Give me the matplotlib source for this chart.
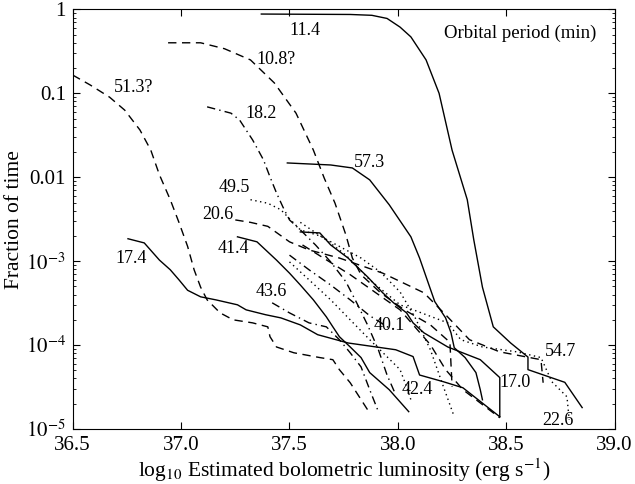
import matplotlib

matplotlib.use("Agg")
import matplotlib.pyplot as plt
from matplotlib.ticker import FixedLocator, FixedFormatter, LogLocator, NullFormatter

plt.rcParams["font.family"] = ["Liberation Serif", "DejaVu Serif"]
plt.rcParams["mathtext.fontset"] = "stix"

# curves: log10 L (x) and fraction of time (y)
x_114 = [37.37, 37.78, 37.88, 37.95, 38.01, 38.06, 38.13, 38.19, 38.25, 38.32, 38.35, 38.39, 38.44, 38.52, 38.60, 38.60, 38.77, 38.85]
y_114 = [0.88, 0.87, 0.85, 0.78, 0.615, 0.47, 0.25, 0.10, 0.021, 5.4e-3, 1.8e-3, 4.9e-4, 1.65e-4, 1.06e-4, 7.2e-5, 5.1e-5, 3.6e-5, 1.8e-5]

x_108 = [36.94, 37.09, 37.20, 37.32, 37.43, 37.53, 37.61, 37.66, 37.71, 37.76, 37.79, 37.83, 37.92, 38.03, 38.15, 38.24, 38.25]
y_108 = [0.40, 0.40, 0.34, 0.25, 0.133, 0.058, 0.0211, 0.0098, 4.9e-3, 2.06e-3, 1.09e-3, 6.9e-4, 4.2e-4, 2.63e-4, 1.74e-4, 1.08e-4, 3.2e-5]

x_513 = [36.50, 36.58, 36.67, 36.74, 36.81, 36.86, 36.90, 36.95, 36.99, 37.03, 37.06, 37.09, 37.12,
         37.18, 37.24, 37.33, 37.40, 37.41, 37.44, 37.52, 37.64, 37.70, 37.73, 37.78, 37.86]
y_513 = [0.165, 0.126, 0.090, 0.063, 0.0366, 0.0211, 0.0107, 5.4e-3, 2.9e-3, 1.5e-3, 7.9e-4, 4.9e-4, 3.46e-4,
         2.42e-4, 2.0e-4, 1.84e-4, 1.65e-4, 1.26e-4, 9.5e-5, 8.1e-5, 7.1e-5, 6.7e-5, 5.1e-5, 3.56e-5, 1.7e-5]

x_182 = [37.12, 37.23, 37.27, 37.33, 37.38, 37.41, 37.44, 37.47, 37.50, 37.55, 37.62, 37.69, 37.76, 37.81, 37.86, 37.91, 37.95, 37.99]
y_182 = [0.069, 0.058, 0.048, 0.0278, 0.0161, 0.0101, 6.5e-3, 4.4e-3, 3.1e-3, 2.36e-3, 1.56e-3, 9.8e-4, 5.7e-4, 3.19e-4, 1.74e-4, 8.8e-5, 4.4e-5, 2.56e-5]

x_573 = [37.49, 37.69, 37.79, 37.87, 37.96, 38.06, 38.10, 38.14, 38.17, 38.22, 38.245, 38.26, 38.31, 38.36, 38.38, 38.39]
y_573 = [0.0148, 0.0140, 0.0129, 9.3e-3, 4.7e-3, 1.95e-3, 1.09e-3, 5.5e-4, 3.3e-4, 2.11e-4, 1.40e-4, 9.3e-5, 7.1e-5, 4.7e-5, 2.94e-5, 2.23e-5]

x_495 = [37.32, 37.40, 37.46, 37.55, 37.64, 37.73, 37.83, 37.92, 38.01, 38.08, 38.15, 38.21, 38.26]
y_495 = [5.4e-3, 4.9e-3, 4.1e-3, 2.36e-3, 2.0e-3, 1.5e-3, 1.09e-3, 7.4e-4, 4.3e-4, 2.11e-4, 8.8e-5, 3.19e-5, 1.40e-5]

x_226 = [37.55, 37.67, 37.76, 37.87, 38.01, 38.23, 38.29, 38.39, 38.55, 38.66, 38.71, 38.78, 38.79]
y_226 = [2.9e-3, 1.79e-3, 1.18e-3, 6.0e-4, 3.02e-4, 1.84e-4, 1.16e-4, 9.5e-5, 8.3e-5, 7.1e-5, 3.66e-5, 2.42e-5, 1.29e-5]

x_206 = [37.25, 37.32, 37.40, 37.50, 37.59, 37.73, 37.93, 38.12, 38.22, 38.33, 38.47, 38.66, 38.67]
y_206 = [3.1e-3, 2.9e-3, 2.6e-3, 1.70e-3, 1.36e-3, 1.09e-3, 7.2e-4, 4.2e-4, 2.30e-4, 1.16e-4, 8.3e-5, 6.7e-5, 3.56e-5]

x_414 = [37.26, 37.35, 37.44, 37.50, 37.55, 37.61, 37.67, 37.70, 37.73, 37.78, 37.83, 37.87, 37.96, 38.05]
y_414 = [1.95e-3, 1.70e-3, 1.03e-3, 7.2e-4, 5.2e-4, 3.46e-4, 2.17e-4, 1.65e-4, 1.26e-4, 9.5e-5, 7.1e-5, 4.7e-5, 2.94e-5, 1.61e-5]

x_174 = [36.755, 36.83, 36.90, 36.95, 36.99, 37.03, 37.09, 37.16, 37.26, 37.30, 37.39, 37.46, 37.55,
         37.63, 37.77, 37.99, 38.07, 38.10, 38.21, 38.30, 38.47]
y_174 = [1.85e-3, 1.65e-3, 1.03e-3, 7.9e-4, 6.0e-4, 4.5e-4, 3.76e-4, 3.46e-4, 3.02e-4, 2.63e-4, 2.30e-4, 2.11e-4, 1.74e-4,
         1.33e-4, 1.06e-4, 8.8e-5, 7.3e-5, 4.4e-5, 3.66e-5, 3.10e-5, 1.40e-5]

x_170 = [37.55, 37.64, 37.69, 37.77, 37.86, 37.93, 37.98, 38.04, 38.07, 38.12, 38.23, 38.32, 38.38, 38.47, 38.47]
y_170 = [2.23e-3, 2.17e-3, 1.56e-3, 1.09e-3, 6.5e-4, 4.2e-4, 3.19e-4, 2.42e-4, 1.84e-4, 1.40e-4, 9.5e-5, 7.7e-5, 6.7e-5, 4.1e-5, 1.40e-5]

x_436 = [37.42, 37.50, 37.59, 37.67, 37.73, 37.78, 37.83, 37.87, 37.91]
y_436 = [3.19e-4, 2.42e-4, 1.84e-4, 1.65e-4, 1.16e-4, 8.1e-5, 5.5e-5, 2.94e-5, 1.61e-5]

x_401 = [37.50, 37.59, 37.69, 37.78, 37.87, 37.96]
y_401 = [1.18e-3, 7.9e-4, 5.2e-4, 3.46e-4, 2.24e-4, 1.6e-4]

x_424 = [37.50, 37.59, 37.69, 37.78, 37.87, 37.94, 38.01, 38.04, 38.06]
y_424 = [9.8e-4, 6.0e-4, 3.46e-4, 2.0e-4, 1.16e-4, 7.7e-5, 5.1e-5, 3.19e-5, 2.23e-5]

x_extra = [37.56, 37.78, 38.01, 38.15, 38.22, 38.30, 38.47]
y_extra = [1.56e-3, 6.9e-4, 2.63e-4, 1.01e-4, 5.1e-5, 2.94e-5, 1.36e-5]

# period labels and where they sit
period_labels = ["11.4", "10.8?", "51.3?", "18.2", "57.3", "49.5", "20.6", "41.4",
                 "17.4", "43.6", "40.1", "42.4", "17.0", "54.7", "22.6"]
label_x = [37.57, 37.44, 36.78, 37.37, 37.87, 37.245, 37.17, 37.24,
           36.77, 37.415, 37.96, 38.09, 38.54, 38.75, 38.74]
label_y = [0.567, 0.256, 0.116, 0.057, 0.0148, 7.5e-3, 3.6e-3, 1.4e-3,
           1.09e-3, 4.3e-4, 1.70e-4, 2.94e-5, 3.56e-5, 8.3e-5, 1.25e-5]

x_ticks = [36.5, 37.0, 37.5, 38.0, 38.5, 39.0]
x_ticklabels = ["36.5", "37.0", "37.5", "38.0", "38.5", "39.0"]
y_ticks = [1e-5, 1e-4, 1e-3, 1e-2, 1e-1, 1]
y_ticklabels = [r"$10^{-5}$", r"$10^{-4}$", r"$10^{-3}$", "0.01", "0.1", "1"]

solid = "-"
dashed = (0, (6, 4))
dashdot = (0, (6, 3, 1, 3))
dotted = (0, (1, 2.5))

fig = plt.figure(figsize=(6.35, 4.84), dpi=100)
ax = fig.add_axes([0.1145, 0.1136, 0.8535, 0.867])

for xs, ys, ls in [
    (x_114, y_114, solid), (x_108, y_108, dashed), (x_513, y_513, dashed),
    (x_182, y_182, dashdot), (x_573, y_573, solid), (x_495, y_495, dotted),
    (x_226, y_226, dotted), (x_206, y_206, dashed), (x_414, y_414, solid),
    (x_174, y_174, solid), (x_170, y_170, solid), (x_436, y_436, dashdot),
    (x_401, y_401, dashdot), (x_424, y_424, dotted), (x_extra, y_extra, dashed),
]:
    ax.plot(xs, ys, color="black", lw=1.0, linestyle=ls)

for t, lx, ly in zip(period_labels, label_x, label_y):
    ax.text(lx, ly, t, fontsize=13, ha="center", va="center")

ax.text(0.967, 0.9435, "Orbital period (min)", transform=ax.transAxes,
        fontsize=13.5, ha="right", va="center")

ax.set_yscale("log")
ax.set_xlim(36.5, 39.0)
ax.set_ylim(1e-5, 1)
ax.xaxis.set_major_locator(FixedLocator(x_ticks))
ax.xaxis.set_major_formatter(FixedFormatter(x_ticklabels))
ax.yaxis.set_major_locator(FixedLocator(y_ticks))
ax.yaxis.set_major_formatter(FixedFormatter(y_ticklabels))
ax.yaxis.set_minor_locator(LogLocator(base=10, subs=range(2, 10)))
ax.yaxis.set_minor_formatter(NullFormatter())
ax.tick_params(which="both", direction="in", top=True, right=True, labelsize=15)
ax.tick_params(which="major", length=5, pad=5)
ax.tick_params(which="minor", length=2.5)

ax.set_xlabel(r"log$_{10}$ Estimated bolometric luminosity (erg s$^{-1}$)", fontsize=15.5, labelpad=1)
ax.set_ylabel("Fraction of time", fontsize=15.5, labelpad=1)

fig.savefig("out.png", dpi=100)
